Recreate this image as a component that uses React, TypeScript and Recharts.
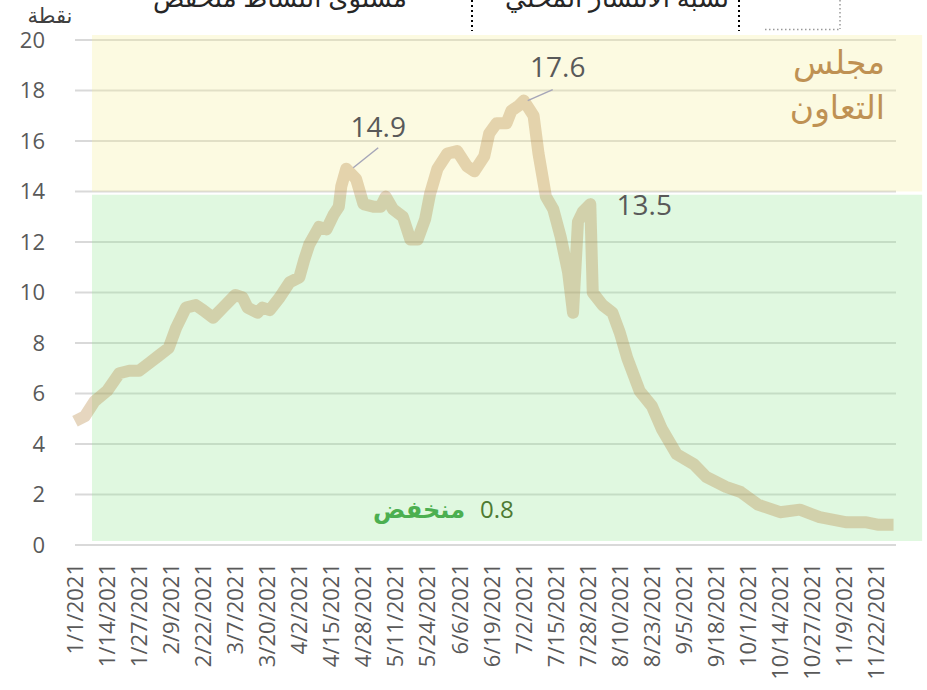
import React from 'react'
import { LineChart, Line, XAxis, YAxis, CartesianGrid, ReferenceArea, ReferenceDot } from 'recharts'

// readings taken off the chart, 2021
const dates = [
  '1/1', '1/5', '1/9', '1/14', '1/19', '1/23', '1/27', '1/31', '2/4', '2/8',
  '2/11', '2/15', '2/19', '2/22', '2/26', '3/2', '3/7', '3/10', '3/12', '3/16',
  '3/18', '3/21', '3/25', '3/29', '4/2', '4/4', '4/6', '4/10', '4/13', '4/16',
  '4/18', '4/19', '4/21', '4/25', '4/28', '5/2', '5/5', '5/7', '5/10', '5/14',
  '5/17', '5/20', '5/23', '5/25', '5/28', '6/1', '6/5', '6/9', '6/12', '6/16',
  '6/18', '6/21', '6/25', '6/27', '6/30', '7/2', '7/6', '7/8', '7/11', '7/14',
  '7/17', '7/20', '7/22', '7/24', '7/26', '7/29', '7/30', '8/3', '8/7', '8/10',
  '8/13', '8/18', '8/23', '8/27', '9/2', '9/9', '9/14', '9/22', '9/28', '10/5',
  '10/14', '10/22', '10/30', '11/10', '11/18', '11/23', '11/29',
]
const values = [
  4.9, 5.1, 5.7, 6.1, 6.8, 6.9, 6.9, 7.2, 7.5, 7.8,
  8.6, 9.4, 9.5, 9.3, 9.0, 9.4, 9.9, 9.8, 9.4, 9.2,
  9.4, 9.3, 9.8, 10.4, 10.6, 11.3, 11.9, 12.6, 12.5, 13.1,
  13.4, 14.2, 14.9, 14.5, 13.5, 13.4, 13.4, 13.8, 13.3, 13.0,
  12.1, 12.1, 12.9, 13.9, 14.9, 15.5, 15.6, 15.0, 14.8, 15.4,
  16.3, 16.7, 16.7, 17.2, 17.4, 17.6, 17.0, 15.5, 13.8, 13.3,
  12.2, 10.8, 9.2, 12.8, 13.2, 13.5, 10.0, 9.5, 9.2, 8.4,
  7.4, 6.1, 5.5, 4.6, 3.6, 3.2, 2.7, 2.3, 2.1, 1.6,
  1.3, 1.4, 1.1, 0.9, 0.9, 0.8, 0.8,
]
const tickLabels = [
  '1/1/2021', '1/14/2021', '1/27/2021', '2/9/2021', '2/22/2021', '3/7/2021',
  '3/20/2021', '4/2/2021', '4/15/2021', '4/28/2021', '5/11/2021', '5/24/2021',
  '6/6/2021', '6/19/2021', '7/2/2021', '7/15/2021', '7/28/2021', '8/10/2021',
  '8/23/2021', '9/5/2021', '9/18/2021', '10/1/2021', '10/14/2021', '10/27/2021',
  '11/9/2021', '11/22/2021',
]
const yTicks = [0, 2, 4, 6, 8, 10, 12, 14, 16, 18, 20]
const peakDates = ['4/21', '7/2', '7/29']
const seriesName = ['مجلس', 'التعاون']
const lowLabel = 'منخفض'
const unitLabel = 'نقطة'
const headerTexts = ['مستوى النشاط منخفض', 'نسبة الانتشار المحلي']

const dayOf = (s: string) => {
  const [m, d] = s.split('/').map(Number)
  return Math.round((Date.UTC(2021, m - 1, d) - Date.UTC(2021, 0, 1)) / 86400000)
}

const data = dates.map((d, i) => ({ day: dayOf(d), value: values[i] }))
const xTicks = tickLabels.map(dayOf)
const labelByDay: Record<number, string> = {}
tickLabels.forEach((t) => { labelByDay[dayOf(t)] = t })

const FONT = "'Open Sans', 'DejaVu Sans', sans-serif"
const GREY = '#595959'

// label placement for each peak, relative to the point
const peakOffsets = [
  { tx: 32, ty: -32, leader: [7, -1, 32, -21] },
  { tx: 34, ty: -24, leader: [4, 0, 29, -11] },
  { tx: 54, ty: 11, leader: null },
]

const XTick = ({ x, y, payload }: any) => (
  <g transform={`translate(${x},${y})`}>
    <text transform="rotate(-90)" x={-18} y={0} dy="0.36em" textAnchor="end"
      fill={GREY} fontSize={22} fontFamily={FONT}>
      {labelByDay[payload.value]}
    </text>
  </g>
)

const App: React.FC = () => {
  const last = values[values.length - 1]
  return (
    <div style={{ position: 'absolute', left: 0, top: 0, width: 927, height: 690, background: '#fff' }}>
      <LineChart width={927} height={690} data={data}
        margin={{ top: 40, right: 31, left: 0, bottom: 0 }}>
        <ReferenceArea x1={6.9} x2={343.6} y1={14.0} y2={20.2} ifOverflow="visible"
          fill="rgb(245,238,155)" fillOpacity={0.3} stroke="none" />
        <ReferenceArea x1={6.9} x2={343.6} y1={0.16} y2={13.87} ifOverflow="visible"
          fill="rgb(152,232,152)" fillOpacity={0.3} stroke="none" />
        <CartesianGrid vertical={false} stroke="#D9D9D9" strokeWidth={2} />
        <XAxis dataKey="day" type="number" domain={[0, 333]} ticks={xTicks} interval={0}
          axisLine={false} tickLine={false} tickSize={0} tickMargin={0} height={145}
          tick={<XTick />} />
        <YAxis domain={[0, 20]} ticks={yTicks} width={75} axisLine={false} tickLine={false}
          tickSize={0} tickMargin={30}
          tick={{ fill: GREY, fontSize: 22, fontFamily: FONT }} />
        <Line type="linear" dataKey="value" stroke="rgb(185,140,78)" strokeOpacity={0.36}
          strokeWidth={12} strokeLinejoin="round" dot={false} activeDot={false}
          isAnimationActive={false} />
        {peakDates.map((d, i) => {
          const v = values[dates.indexOf(d)]
          const o = peakOffsets[i]
          return (
            <ReferenceDot key={d} x={dayOf(d)} y={v} r={0} ifOverflow="visible"
              shape={(p: any) => (
                <g>
                  {o.leader && (
                    <line x1={p.cx + o.leader[0]} y1={p.cy + o.leader[1]}
                      x2={p.cx + o.leader[2]} y2={p.cy + o.leader[3]}
                      stroke="#A6A6B8" strokeWidth={1.5} />
                  )}
                  <text x={p.cx + o.tx} y={p.cy + o.ty} textAnchor="middle"
                    fill={GREY} fontSize={28} fontFamily={FONT}>{v.toFixed(1)}</text>
                </g>
              )} />
          )
        })}
      </LineChart>
      <svg width={927} height={690} style={{ position: 'absolute', left: 0, top: 0, pointerEvents: 'none' }}>
        <text x={280} y={7} textAnchor="middle" fontSize={26} fontFamily={FONT} fill="#262626">{headerTexts[0]}</text>
        <text x={617} y={7} textAnchor="middle" fontSize={26} fontFamily={FONT} fill="#262626">{headerTexts[1]}</text>
        <line x1={472} y1={0} x2={472} y2={31} stroke="#000" strokeWidth={2} strokeDasharray="2 3" />
        <line x1={739} y1={0} x2={739} y2={31} stroke="#000" strokeWidth={2} strokeDasharray="2 3" />
        <line x1={840} y1={0} x2={840} y2={29} stroke="#999" strokeWidth={1.5} strokeDasharray="1.5 2.5" />
        <line x1={765} y1={29.5} x2={840} y2={29.5} stroke="#999" strokeWidth={1.5} strokeDasharray="1.5 2.5" />
        <text x={50} y={23} textAnchor="middle" fontSize={21} fontFamily={FONT} fill="#404040">{unitLabel}</text>
        <text x={885} y={74} textAnchor="end" fontSize={33} fontFamily={FONT} fill="#BF9153">{seriesName[0]}</text>
        <text x={885} y={119} textAnchor="end" fontSize={33} fontFamily={FONT} fill="#BF9153">{seriesName[1]}</text>
        <text x={480} y={518} textAnchor="start" fontSize={24} fontFamily={FONT} fill="#4E7A32">{last.toFixed(1)}</text>
        <text x={465} y={518} textAnchor="end" fontSize={24} fontWeight="bold" fontFamily={FONT} fill="#4CAF50">{lowLabel}</text>
      </svg>
    </div>
  )
}

export default App
